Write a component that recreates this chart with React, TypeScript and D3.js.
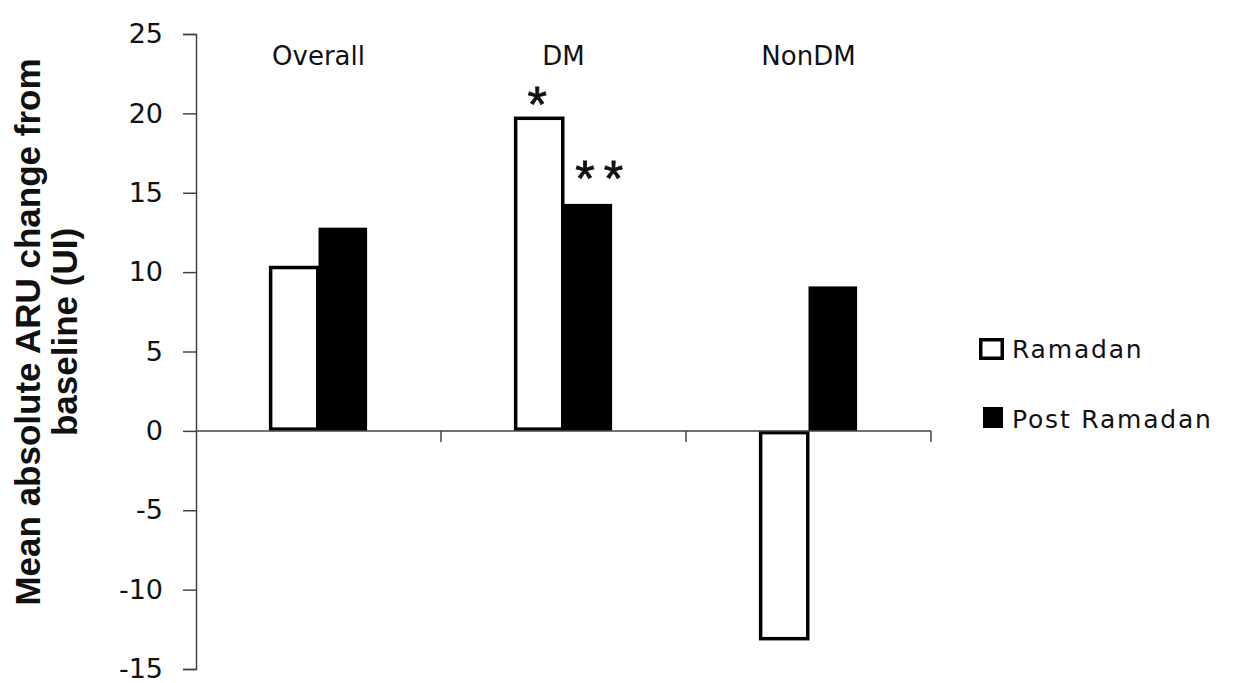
import { useEffect, useRef } from 'react'
import * as d3 from 'd3'

const categories = ['Overall', 'DM', 'NonDM']
const series = ['Ramadan', 'Post Ramadan']
const ramadan = [10.4, 19.8, -13.2]
const postRamadan = [12.8, 14.3, 9.1]
const yTicks = [25, 20, 15, 10, 5, 0, -5, -10, -15]
const yTickLabels = ['25', '20', '15', '10', '5', '0', '-5', '-10', '-15']
// significance marks per category/series
const stars = [
  { cat: 'DM', series: 'Ramadan', text: '*' },
  { cat: 'DM', series: 'Post Ramadan', text: '**' },
]

const W = 1235
const H = 683
const FONT = '"DejaVu Sans", Verdana, sans-serif'

export default function App() {
  const ref = useRef<SVGSVGElement | null>(null)

  useEffect(() => {
    if (!ref.current) return
    const svg = d3.select(ref.current)
    svg.selectAll('*').remove()

    const left = 196
    const right = 931
    const top = 34
    const bottom = 669

    const x = d3.scaleBand().domain(categories).range([left, right]).padding(0)
    const x1 = d3
      .scaleBand()
      .domain(series)
      .range([0, x.bandwidth()])
      .paddingInner(0)
      .paddingOuter(1.52)
    const y = d3.scaleLinear().domain([-15, 25]).range([bottom, top])

    const rows = categories.map((c, i) => ({ cat: c, values: [ramadan[i], postRamadan[i]] }))

    // y axis
    const yAxis = svg
      .append('g')
      .attr('transform', `translate(${left},0)`)
      .call(
        d3
          .axisLeft(y)
          .tickValues(yTicks)
          .tickSize(13)
          .tickPadding(20)
          .tickFormat((d, i) => yTickLabels[i])
      )
    yAxis.select('.domain').attr('stroke', '#444').attr('stroke-width', 1.5)
    yAxis.selectAll('.tick line').attr('stroke', '#444').attr('stroke-width', 1.5)
    yAxis
      .selectAll('.tick text')
      .attr('fill', '#111')
      .attr('font-family', FONT)
      .attr('font-size', 27)

    // bars
    rows.forEach((r) => {
      const g = svg.append('g').attr('transform', `translate(${x(r.cat)},0)`)
      series.forEach((s, j) => {
        const v = r.values[j]
        const isRam = j === 0
        const inset = isRam ? 1.75 : 0
        g.append('rect')
          .attr('x', (x1(s) as number) + inset - (isRam ? 1 : 0))
          .attr('y', Math.min(y(v), y(0)) + inset)
          .attr('width', x1.bandwidth() - inset * 2 + (isRam ? 2 : 0))
          .attr('height', Math.abs(y(v) - y(0)) - inset * 2)
          .attr('fill', isRam ? '#fff' : '#000')
          .attr('stroke', isRam ? '#000' : 'none')
          .attr('stroke-width', 3.5)
      })
    })

    // x axis at zero
    const xAxis = svg
      .append('g')
      .attr('transform', `translate(0,${y(0)})`)
    xAxis
      .append('line')
      .attr('x1', left)
      .attr('x2', right)
      .attr('stroke', '#444')
      .attr('stroke-width', 1.5)
    categories.forEach((c) => {
      const xe = (x(c) as number) + x.bandwidth()
      xAxis
        .append('line')
        .attr('x1', xe)
        .attr('x2', xe)
        .attr('y1', 0)
        .attr('y2', 11)
        .attr('stroke', '#444')
        .attr('stroke-width', 1.5)
    })

    // category labels
    svg
      .selectAll('text.cat')
      .data(categories)
      .join('text')
      .attr('class', 'cat')
      .attr('x', (d) => (x(d) as number) + x.bandwidth() / 2)
      .attr('y', 65)
      .attr('text-anchor', 'middle')
      .attr('font-family', FONT)
      .attr('font-size', 26)
      .attr('fill', '#111')
      .text((d) => d)

    // stars
    stars.forEach((st) => {
      const i = categories.indexOf(st.cat)
      const j = series.indexOf(st.series)
      const v = j === 0 ? ramadan[i] : postRamadan[i]
      const cx = (x(st.cat) as number) + (x1(st.series) as number) + x1.bandwidth() / 2
      svg
        .append('text')
        .attr('x', cx + (j === 0 ? -2 : 16))
        .attr('y', y(v) + (j === 0 ? 5 : -8))
        .attr('text-anchor', 'middle')
        .attr('font-family', '"Liberation Sans", Arial, sans-serif')
        .attr('font-size', 50)
        .attr('letter-spacing', j === 0 ? 0 : 9)
        .attr('fill', '#111')
        .attr('stroke', '#111')
        .attr('stroke-width', 0.8)
        .text(st.text)
    })

    // legend
    const lg = svg.append('g').attr('transform', 'translate(979,338)')
    series.forEach((s, i) => {
      const row = lg.append('g').attr('transform', `translate(0,${i * 70})`)
      row
        .append('rect')
        .attr('x', i === 0 ? 1.75 : 4)
        .attr('y', i === 0 ? 1.75 : -1)
        .attr('width', i === 0 ? 21.5 : 20)
        .attr('height', i === 0 ? 18.5 : 21)
        .attr('fill', i === 0 ? '#fff' : '#000')
        .attr('stroke', i === 0 ? '#000' : 'none')
        .attr('stroke-width', 3.5)
      row
        .append('text')
        .attr('x', 33)
        .attr('y', 20)
        .attr('font-family', FONT)
        .attr('font-size', 25)
        .attr('letter-spacing', 1.8)
        .attr('fill', '#111')
        .text(s)
    })

    // y title
    const title = svg
      .append('text')
      .attr('transform', 'translate(40,332) rotate(-90)')
      .attr('text-anchor', 'middle')
      .attr('font-family', '"Liberation Sans", Arial, sans-serif')
      .attr('font-weight', 700)
      .attr('font-size', 35)
      .attr('fill', '#111')
    title.append('tspan').attr('x', 0).attr('y', 0).text('Mean absolute ARU change from')
    title.append('tspan').attr('x', 0).attr('y', 37).text('baseline (UI)')
  }, [])

  return (
    <svg
      ref={ref}
      width={W}
      height={H}
      style={{ position: 'absolute', left: 0, top: 0, background: '#fff' }}
    />
  )
}
